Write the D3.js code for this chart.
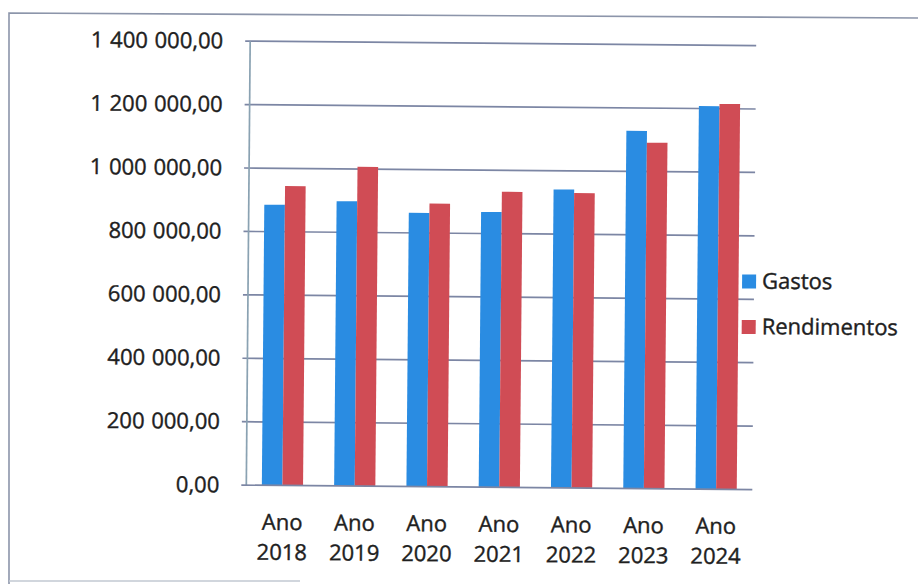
<!DOCTYPE html>
<html>
<head>
<meta charset="utf-8">
<script src="https://cdn.jsdelivr.net/npm/d3@7"></script>
<style>
  html, body { margin: 0; padding: 0; background: #ffffff; }
  svg { display: block; }
  text { font-family: "Open Sans", "Noto Sans", sans-serif; fill: #1f1f1f; stroke: #1f1f1f; stroke-width: 0.4px; }
</style>
</head>
<body>
<svg id="chart" width="918" height="584"></svg>
<script>
// Annual spending vs income
const years = ["2018", "2019", "2020", "2021", "2022", "2023", "2024"];
const categoryPrefix = "Ano";
const seriesNames = ["Gastos", "Rendimentos"];
const gastos = [885000, 898000, 863000, 868000, 941000, 1128000, 1208000];
const rendimentos = [944000, 1007000, 893000, 932000, 930000, 1091000, 1215000];
const yTicks = [0, 200000, 400000, 600000, 800000, 1000000, 1200000, 1400000];
const seriesColors = ["#2a8ce2", "#d04c55"];

const W = 918, H = 584;
const svg = d3.select("#chart");
svg.append("rect").attr("width", W).attr("height", H).attr("fill", "#ffffff");

// page frame around the chart
svg.append("path")
  .attr("d", "M9,584 L9,13 L918,18")
  .attr("fill", "none").attr("stroke", "#8c95aa").attr("stroke-width", 1.6);
svg.append("line")
  .attr("x1", 9).attr("x2", 300).attr("y1", 581).attr("y2", 581)
  .attr("stroke", "#c2c8d2").attr("stroke-width", 1.4);

// the chart sits slightly tilted on the page
const g = svg.append("g").attr("transform", "rotate(0.5, 459, 292)");

const plot = { left: 248, right: 754, top: 43, bottom: 487 };

const y = d3.scaleLinear().domain([0, 1400000]).range([plot.bottom, plot.top]);
const x = d3.scaleBand().domain(years).range([plot.left, plot.right])
  .paddingInner(0.43).paddingOuter(0.215);
const xs = d3.scaleBand().domain(seriesNames).range([0, x.bandwidth()]);

// number format: space thousands separator, comma decimals
const ptFormat = d3.formatLocale({ decimal: ",", thousands: " ", grouping: [3], currency: ["", ""] }).format(",.2f");

// horizontal gridlines with small outward ticks
g.append("g").selectAll("line").data(yTicks.filter(d => d > 0)).join("line")
  .attr("x1", plot.left - 5).attr("x2", plot.right)
  .attr("y1", d => y(d)).attr("y2", d => y(d))
  .attr("stroke", "#7c86a4").attr("stroke-width", 1.7);

// bars
const rows = years.map((yr, i) => ({ yr, values: [gastos[i], rendimentos[i]] }));
const groups = g.append("g").selectAll("g").data(rows).join("g")
  .attr("transform", d => `translate(${x(d.yr)},0)`);
groups.selectAll("rect").data(d => d.values.map((v, k) => ({ v, k }))).join("rect")
  .attr("x", d => xs(seriesNames[d.k]))
  .attr("width", xs.bandwidth())
  .attr("y", d => y(d.v))
  .attr("height", d => y(0) - y(d.v))
  .attr("fill", d => seriesColors[d.k]);

// axis lines
g.append("line")
  .attr("x1", plot.left).attr("x2", plot.left).attr("y1", plot.top).attr("y2", plot.bottom)
  .attr("stroke", "#8aa2b2").attr("stroke-width", 1.7);
g.append("line")
  .attr("x1", plot.left - 5).attr("x2", plot.right).attr("y1", plot.bottom).attr("y2", plot.bottom)
  .attr("stroke", "#7c86a4").attr("stroke-width", 1.7);

// y tick labels
g.append("g").selectAll("text").data(yTicks).join("text")
  .attr("x", 221).attr("y", d => y(d)).attr("dy", "0.34em")
  .attr("text-anchor", "end")
  .style("font-size", "22px").style("word-spacing", "1px")
  .text(d => ptFormat(d));

// x category labels on two lines
const xl = g.append("g").selectAll("text").data(years).join("text")
  .attr("text-anchor", "middle")
  .style("font-size", "22px");
xl.append("tspan").attr("x", d => x(d) + x.bandwidth() / 2).attr("y", 531.5).text(categoryPrefix);
xl.append("tspan").attr("x", d => x(d) + x.bandwidth() / 2).attr("y", 561.5).text(d => d);

// legend
const legend = g.append("g").selectAll("g").data(seriesNames).join("g")
  .attr("transform", (d, i) => `translate(742,${272 + i * 45.5})`);
legend.append("rect").attr("width", 14).attr("height", 14).attr("fill", (d, i) => seriesColors[i]);
legend.append("text").attr("x", 20).attr("y", 14).style("font-size", "22px").text(d => d);
</script>
</body>
</html>
